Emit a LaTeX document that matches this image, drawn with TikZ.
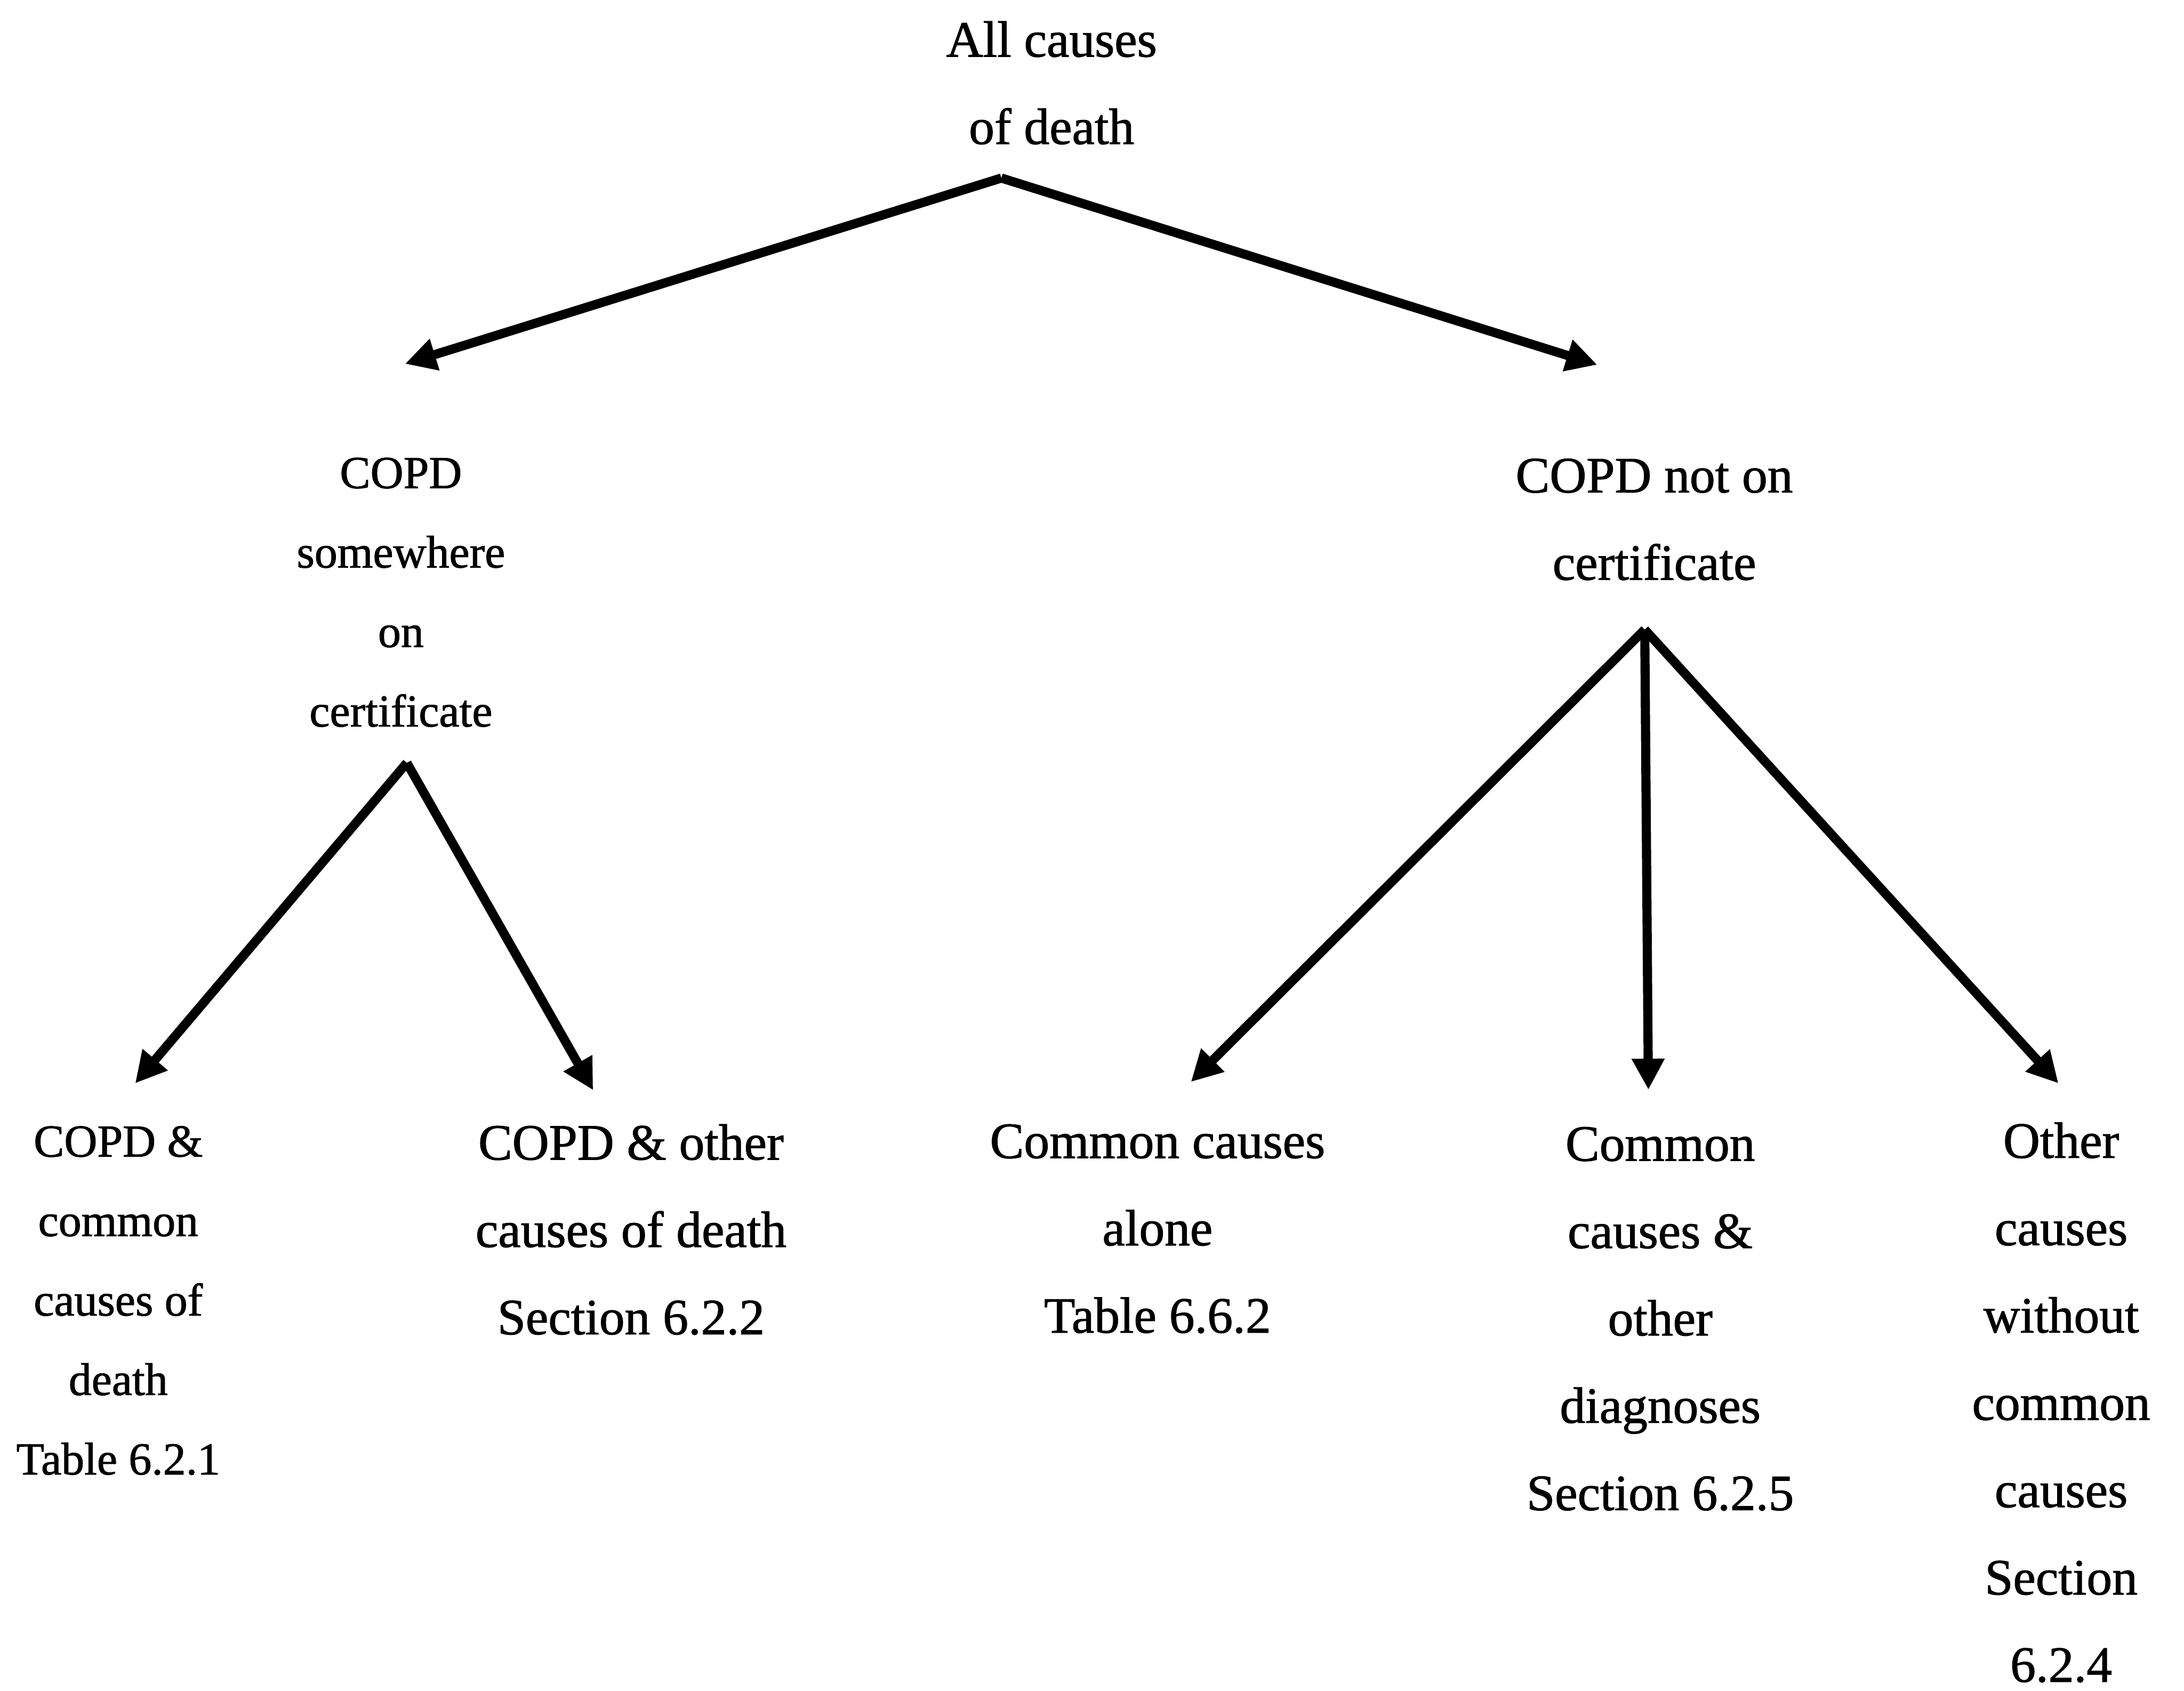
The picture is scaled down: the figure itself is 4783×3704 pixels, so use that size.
\documentclass[tikz,border=0pt]{standalone}
\usepackage{fontspec}
\setmainfont{Liberation Serif}[FakeBold=1.2]
\usetikzlibrary{arrows.meta, positioning}

\tikzset{
  cause/.style={align=center, inner sep=0pt, anchor=north, font=\fontsize{31.7}{54.4}\selectfont},
  causesmall/.style={cause, font=\fontsize{28.5}{49.5}\selectfont},
  branch/.style={line width=0.2cm, -{Triangle[length=0.68cm, width=0.68cm]}}
}

\begin{document}
\begin{tikzpicture}[x=0.01cm, y=-0.01cm]
\useasboundingbox (0,0) rectangle (4783,3704);

\node [cause] (all) at (2303,46) {All causes\\of death};
\node [causesmall] (somewhere) at (878,1002) {COPD\\somewhere\\on\\certificate};
\node [cause] (noton) at (3623,1004) {COPD not on\\certificate};

\node [causesmall] (copdcommon) at (259,2466) {COPD \&\\common\\causes of\\death\\Table 6.2.1};
\node [cause] (copdother) at (1382,2462) {COPD \& other\\causes of death\\Section 6.2.2};
\node [cause] (commonalone) at (2535,2462) {Common causes\\alone\\Table 6.6.2};
\node [cause] (commonother) at (3636,2468) {Common\\causes \&\\other\\diagnoses\\Section 6.2.5};
\node [cause] (othercauses) at (4514,2458) {Other\\causes\\without\\common\\causes\\Section\\6.2.4};

% forks and arrow ends
\coordinate (all-fork) at (2193,390);
\coordinate (somewhere-fork) at (891,1671);
\coordinate (noton-fork) at (3602,1379);
\coordinate (somewhere-in) at (887,797);
\coordinate (noton-in) at (3498,799);
\coordinate (copdcommon-in) at (296,2373);
\coordinate (copdother-in) at (1299,2388);
\coordinate (commonalone-in) at (2608,2370);
\coordinate (commonother-in) at (3610,2387);
\coordinate (othercauses-in) at (4508,2373);

\draw [branch] (all-fork) -- (somewhere-in);
\draw [branch] (all-fork) -- (noton-in);
\draw [branch] (somewhere-fork) -- (copdcommon-in);
\draw [branch] (somewhere-fork) -- (copdother-in);
\draw [branch] (noton-fork) -- (commonalone-in);
\draw [branch] (noton-fork) -- (commonother-in);
\draw [branch] (noton-fork) -- (othercauses-in);
\end{tikzpicture}
\end{document}
